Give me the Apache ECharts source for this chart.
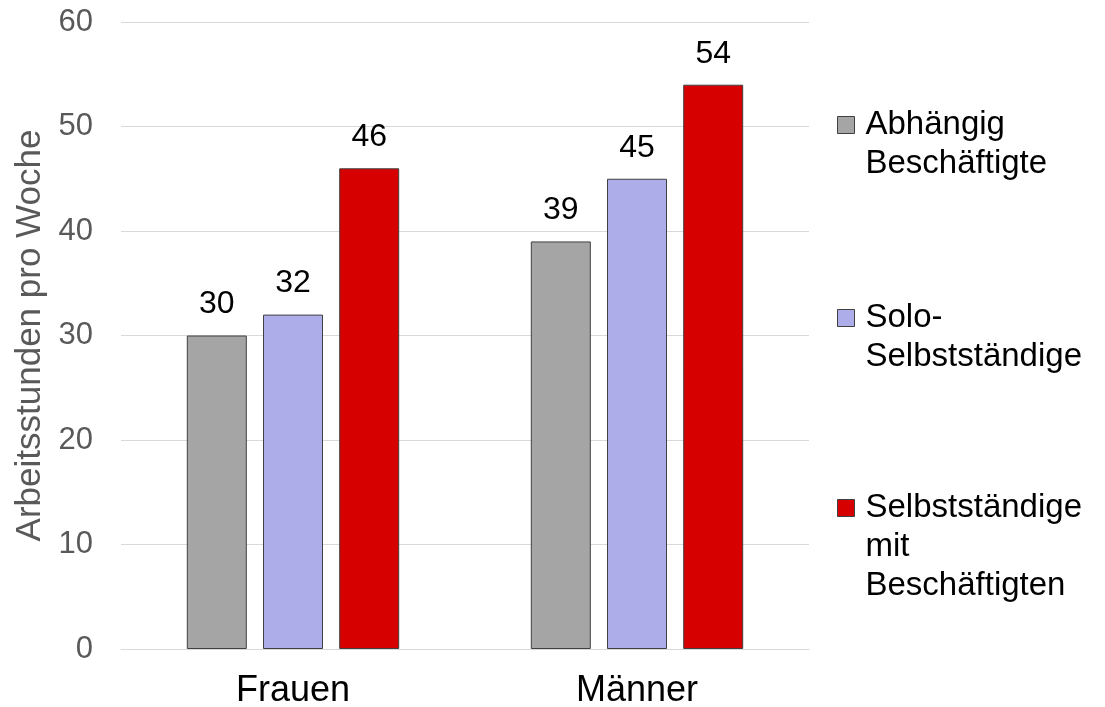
<!DOCTYPE html>
<html>
<head>
<meta charset="utf-8">
<script src="https://cdn.jsdelivr.net/npm/echarts@6/dist/echarts.min.js"></script>
<style>
  html, body { margin: 0; padding: 0; background: #fff; }
  #chart { width: 1105px; height: 707px; }
</style>
</head>
<body>
<div id="chart"></div>
<script>
const categories = ["Frauen", "Männer"];
const seriesNames = ["Abhängig\nBeschäftigte", "Solo-\nSelbstständige", "Selbstständige\nmit\nBeschäftigten"];
const abhaengig = [30, 39];
const solo = [32, 45];
const mitBeschaeftigten = [46, 54];
const yTicks = [0, 10, 20, 30, 40, 50, 60];

const colors = ["#a5a5a5", "#adadea", "#d60000"];
const FONT = "'Liberation Sans', Arial, sans-serif";
const LINE_H = 39;

//one legend per series, icon path padded so the square sits next to the first text line
const legendTops = [105, 298, 488];
const legends = seriesNames.map((name, i) => {
    const h = name.split("\n").length * LINE_H;
    return {
        orient: "vertical",
        left: 837,
        top: legendTops[i],
        padding: 0,
        itemWidth: 23,
        itemHeight: h,
        icon: `path://M0,0L0,0M0,11h17v17h-17zM23,${h}L23,${h}`,
        itemStyle: { borderColor: "#404040", borderWidth: 1 },
        data: [name],
        textStyle: {
            fontFamily: FONT,
            fontSize: 33,
            color: "#000",
            lineHeight: LINE_H
        }
    };
});

function makeSeries(name, values, color) {
    return {
        name: name,
        type: "bar",
        data: values,
        barWidth: 60,
        barGap: "27%",
        itemStyle: { color: color, borderColor: "#404040", borderWidth: 1 },
        label: {
            show: true,
            position: "top",
            distance: 15,
            fontFamily: FONT,
            fontSize: 32,
            color: "#000"
        }
    };
}

const myChart = echarts.init(document.getElementById("chart"), null, { renderer: "canvas" });

const option = {
    animation: false,
    color: colors,
    legend: legends,
    grid: { left: 121, right: 296, top: 22, bottom: 58, containLabel: false, outerBoundsMode: "none" },
    xAxis: {
        type: "category",
        data: categories,
        axisLine: { show: true, lineStyle: { color: "#d9d9d9", width: 1 } },
        axisTick: { show: false },
        axisLabel: { fontFamily: FONT, fontSize: 36, color: "#000", margin: 24 }
    },
    yAxis: {
        type: "value",
        min: yTicks[0],
        max: yTicks[yTicks.length - 1],
        interval: 10,
        name: "Arbeitsstunden pro Woche",
        nameLocation: "middle",
        nameGap: 67,
        nameTextStyle: { fontFamily: FONT, fontSize: 35, color: "#595959" },
        axisLine: { show: false },
        axisTick: { show: false },
        axisLabel: { fontFamily: FONT, fontSize: 31, color: "#595959", margin: 28 },
        splitLine: { lineStyle: { color: "#d9d9d9", width: 1 } }
    },
    series: [
        makeSeries(seriesNames[0], abhaengig, colors[0]),
        makeSeries(seriesNames[1], solo, colors[1]),
        makeSeries(seriesNames[2], mitBeschaeftigten, colors[2])
    ]
};

myChart.setOption(option);
</script>
</body>
</html>
